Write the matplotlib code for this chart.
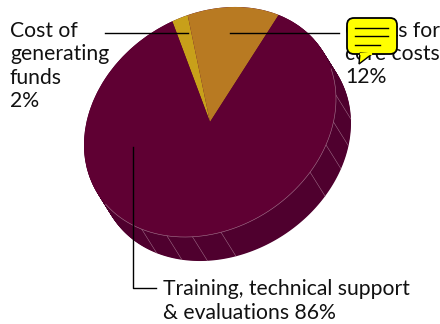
import numpy as np
from matplotlib import pyplot as plt
from matplotlib.patches import FancyBboxPatch, Polygon
from matplotlib.transforms import Affine2D

plt.rcParams['font.family'] = ['Lato', 'DejaVu Sans']

# shares of the budget, clockwise from the gold slice
shares = [2, 12, 86]
colors = ['#c8a01a', '#b87a22', '#5f0033']
label_cost = 'Cost of\ngenerating\nfunds\n2%'
label_grants = 'Grants for\ncore costs\n12%'
label_training = 'Training, technical support\n& evaluations 86%'

# facet seams on the rim, in degrees around the disc
seam_angles = [-2, 11.5, 23, 37.4, 85, 98, 110, 122.8]
rim_range = [-16, 146]

dark_side = '#4f002e'
rim_color = '#a87a92'
cx, cy = 210, 122
depth_x, depth_y = 15, 24

def disc_point(deg):
    # skewed ellipse used for the top of the pie
    t = np.radians(deg)
    return cx + 126 * np.cos(t), cy - 23 * np.cos(t) + 112.7 * np.sin(t)

fig = plt.figure(figsize=(4.4, 3.24), dpi=100)
ax = fig.add_axes([0, 0, 1, 1])

wedges, _ = ax.pie(shares, colors=colors, startangle=252.6, radius=1.0)
ax.set_aspect('auto')
ax.set_xlim(0, 440)
ax.set_ylim(324, 0)
ax.axis('off')

top = Affine2D.from_values(126, -23, 0, 112.7, cx, cy)
for w in wedges:
    w.set_transform(top + ax.transData)
    w.set_zorder(3)

# side of the pie: the maroon slice stacked downwards
for k in np.linspace(0, 1, 40):
    side = Affine2D.from_values(126, -23, 0, 112.7, cx + k * depth_x, cy + k * depth_y)
    theta = np.radians(np.linspace(0, 360, 361))
    pts = side.transform(np.column_stack([np.cos(theta), np.sin(theta)]))
    ax.add_patch(Polygon(pts, closed=True, fc=dark_side, ec='none', zorder=1))

# seams and pale rim
for a in seam_angles:
    x0, y0 = disc_point(a)
    ax.plot([x0, x0 + depth_x], [y0, y0 + depth_y], color=rim_color, lw=0.35, zorder=2)
arc = np.array([disc_point(a) for a in np.linspace(rim_range[0], rim_range[1], 200)])
ax.plot(arc[:, 0], arc[:, 1], color=rim_color, lw=0.4, zorder=4)

# leader lines
ax.plot([105, 188], [33, 33], color='black', lw=1.0, zorder=5)
ax.plot([230, 339], [33, 33], color='black', lw=1.0, zorder=5)
ax.plot([133, 133, 156], [147, 288, 288], color='black', lw=1.0, zorder=5)

text_style = dict(fontsize=15.2, color='#111111', va='center', ha='left',
                  linespacing=1.2, zorder=6)
ax.text(10, 66, label_cost, **text_style)
ax.text(345, 54, label_grants, **text_style)
ax.text(163, 301, label_training, **text_style)

# comment bubble on top
box = FancyBboxPatch((351, 22), 42, 28, boxstyle='round,pad=4,rounding_size=7',
                     fc='#ffff00', ec='black', lw=1.3, zorder=7)
ax.add_patch(box)
ax.add_patch(Polygon([(360, 53), (359, 64), (372, 54)], closed=True, fc='#ffff00',
                     ec='black', lw=1.0, zorder=8))
ax.plot([361, 371], [53.5, 53.5], color='#ffff00', lw=1.6, zorder=9)
for y, x1 in [(28, 388), (36, 388), (45, 380)]:
    ax.plot([355, x1], [y, y], color='black', lw=1.0, zorder=9)

fig.savefig('out.png', dpi=100)
